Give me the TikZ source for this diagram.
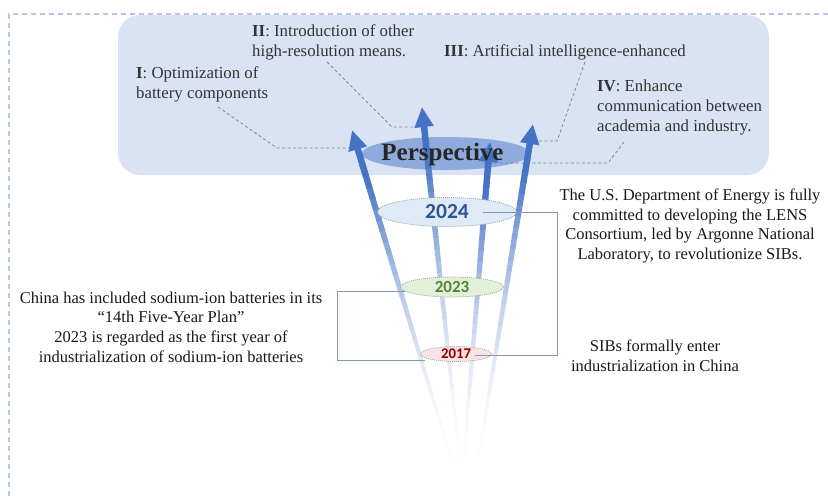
\documentclass[tikz,border=0pt]{standalone}
\usepackage{fontspec}
\setmainfont{Liberation Serif}
\newfontfamily\yearfont{Carlito}
\usetikzlibrary{arrows.meta,calc,shapes.geometric}

\definecolor{boxblue}{HTML}{DAE3F3}
\definecolor{arrowblue}{HTML}{4472C4}
\definecolor{perspblue}{HTML}{8FAADC}
\definecolor{linkgray}{HTML}{8497B0}
\definecolor{framedash}{HTML}{B4C7E7}
\definecolor{labelgray}{HTML}{333333}
\definecolor{fill24}{HTML}{DEEBF7}
\definecolor{fill23}{HTML}{E2F0D9}
\definecolor{fill17}{HTML}{FBE3E3}
\definecolor{text24}{HTML}{2F5597}
\definecolor{text23}{HTML}{548235}
\definecolor{text17}{HTML}{8E0000}

\tikzset{
    lbl/.style={font=\fontsize{16.8}{20}\selectfont, text=labelgray, align=left, inner sep=0pt, anchor=west},
    note/.style={font=\fontsize{16.5}{19.6}\selectfont, text=black!90, align=center, inner sep=0pt},
    lead/.style={gray!95, line width=0.8pt, dash pattern=on 3pt off 2.5pt},
    link/.style={linkgray, line width=1pt},
    yearell/.style={ellipse, draw=gray!75, line width=0.7pt, dash pattern=on 1pt off 1pt, inner sep=0pt}
}

% shaft fades out towards the origin, full colour at the head
\newcommand\fadearrow[2]{%
    \foreach \i in {0,...,29}{
        \pgfmathsetmacro\fa{0.9*\i/30}
        \pgfmathsetmacro\fb{0.9*(\i+1)/30+0.004}
        \pgfmathtruncatemacro\mix{min(100,100*(\fa/0.85)^2)}
        \pgfmathsetmacro\lw{2.5+4.5*\fa}
        \draw[line width=\lw pt, arrowblue!\mix!white] ($(#1)!\fa!(#2)$) -- ($(#1)!\fb!(#2)$);
    }
    \draw[line width=6.5pt, arrowblue, -{Triangle[length=20pt,width=18pt]}] ($(#1)!0.9!(#2)$) -- (#2);
}

\begin{document}
\begin{tikzpicture}[x=1pt,y=-1pt]
    \useasboundingbox (0,0) rectangle (828,499);
    \draw[framedash, line width=1.2pt, dash pattern=on 5pt off 4pt] (828,14) -- (9,14) -- (9,499);
    \fill[boxblue, rounded corners=22pt] (118,15) rectangle (769,175);

    \node[ellipse, fill=perspblue, minimum width=168pt, minimum height=33pt, inner sep=0pt] (persp) at (446,153.5) {};

    \node[lbl] (optI) at (136,84) {\textbf{I}: Optimization of\\battery components};
    \node[lbl] (optII) at (252,42) {\textbf{II}: Introduction of other\\high-resolution means.};
    \node[lbl] (optIII) at (444,52) {\textbf{III}: Artificial intelligence-enhanced};
    \node[lbl] (optIV) at (597,107) {\textbf{IV}: Enhance\\communication between\\academia and industry.};

    \coordinate (lI) at (218,107);
    \coordinate (lII) at (327,62);
    \coordinate (lIII) at (585,62);
    \coordinate (lIV) at (624,142);
    \draw[lead] (lI) -- (277,148) -- (352,148);
    \draw[lead] (lII) -- (392,127) -- (420,127);
    \draw[lead] (lIII) -- (557,141) -- (533,141);
    \draw[lead] (lIV) -- (608,163) -- (482,163);

    \coordinate (o1) at (461,492);
    \coordinate (o2) at (463,492);
    \coordinate (o3) at (461,492);
    \coordinate (o4) at (473,492);
    \coordinate (t1) at (352,130);
    \coordinate (t2) at (422,107);
    \coordinate (t3) at (490,142);
    \coordinate (t4) at (533,124);
    \fadearrow{o1}{t1}
    \fadearrow{o2}{t2}
    \fadearrow{o3}{t3}
    \fadearrow{o4}{t4}

    \node[font=\bfseries\fontsize{25}{25}\selectfont, text=black!85, inner sep=0pt] (ptext) at (442.5,154) {Perspective};

    \node[yearell, fill=fill24, minimum width=139pt, minimum height=29pt, text=text24, font=\yearfont\bfseries\fontsize{21.5}{21.5}\selectfont] (y24) at (447,212) {2024};
    \node[yearell, fill=fill23, minimum width=103pt, minimum height=20pt, text=text23, font=\yearfont\bfseries\fontsize{17}{17}\selectfont] (y23) at (452,287) {2023};
    \node[yearell, fill=fill17, minimum width=71pt, minimum height=15pt, text=text17, font=\yearfont\bfseries\fontsize{14.8}{14.8}\selectfont] (y17) at (456,354) {2017};

    \draw[link] ($(y24.center)+(36,0)$) -| (557,355) -- ($(y17.center)+(19,1)$);
    \draw[link] ($(y23.center)+(-47,4)$) -| (337,360) -- ($(y17.center)+(-31,6)$);

    \node[note] (china) at (171,327) {China has included sodium-ion batteries in its\\“14th Five-Year Plan”\\2023 is regarded as the first year of\\industrialization of sodium-ion batteries};
    \node[note] (doe) at (690,226) {The U.S. Department of Energy is fully\\committed to developing the LENS\\Consortium, led by Argonne National\\Laboratory, to revolutionize SIBs.};
    \node[note] (sibs) at (655,356) {SIBs formally enter\\industrialization in China};
\end{tikzpicture}
\end{document}
